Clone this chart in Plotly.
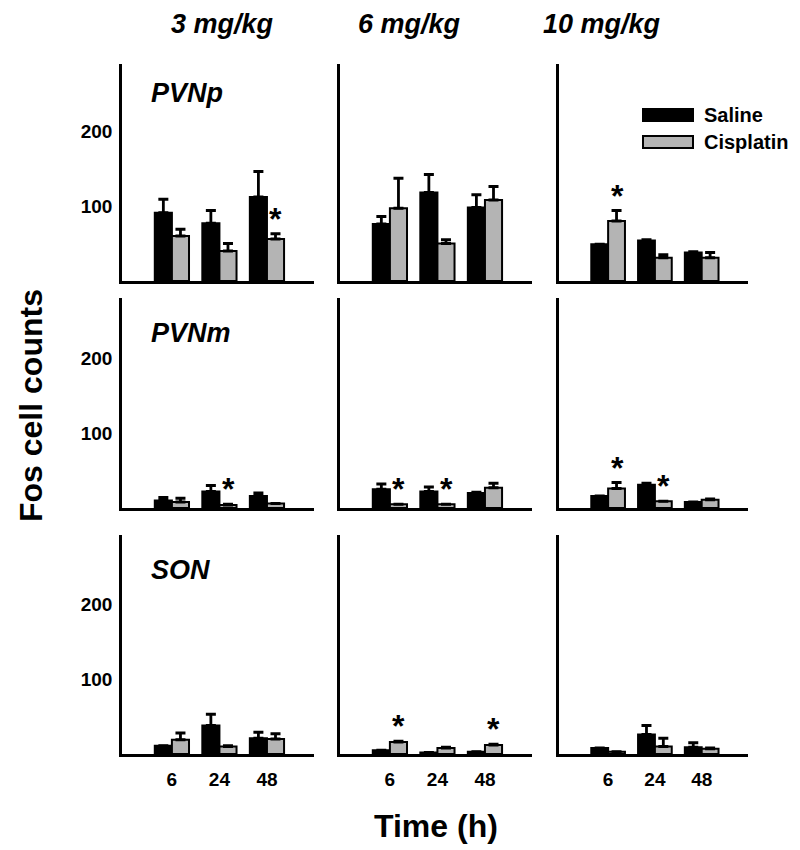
import plotly.graph_objects as go

# ---------------- data ----------------
times = ["6", "24", "48"]
time_pos = [1, 2, 3]
doses = ["3 mg/kg", "6 mg/kg", "10 mg/kg"]
regions = ["PVNp", "PVNm", "SON"]

# each list: [3 mg/kg, 6 mg/kg, 10 mg/kg], each inner list = 6 h, 24 h, 48 h
pvnp_saline = [[91, 77, 112], [76, 118, 98], [49, 54, 38]]
pvnp_saline_err = [[18, 17, 34], [10, 24, 17], [0, 1, 1]]
pvnp_cisplatin = [[60, 40, 56], [97, 50, 108], [80, 31, 31]]
pvnp_cisplatin_err = [[9, 10, 7], [40, 5, 18], [14, 4, 7]]

pvnm_saline = [[10, 22, 16], [25, 22, 20], [16, 31, 8]]
pvnm_saline_err = [[4, 8, 4], [7, 6, 1], [0, 2, 0]]
pvnm_cisplatin = [[8, 4, 6], [5, 5, 27], [26, 9, 11]]
pvnm_cisplatin_err = [[5, 1, 0], [0, 0, 6], [8, 0, 1]]

son_saline = [[11, 38, 21], [5, 2, 3], [8, 26, 9]]
son_saline_err = [[0, 15, 8], [0, 0, 0], [0, 12, 6]]
son_cisplatin = [[19, 10, 20], [16, 8, 12], [3, 10, 7]]
son_cisplatin_err = [[9, 1, 7], [1, 1, 1], [0, 11, 1]]

# significant cisplatin bars: (dose index, time index)
pvnp_sig = [(0, 2), (2, 0)]
pvnm_sig = [(0, 1), (1, 0), (1, 1), (2, 0), (2, 1)]
son_sig = [(1, 0), (1, 2)]

y_tickvals = [100, 200]
legend_names = ["Saline", "Cisplatin"]

# ---------------- layout geometry ----------------
W, H = 800, 850
col_px = [(122, 314), (340, 532), (559, 748)]
row_px = [(64, 281), (298, 508), (535, 754)]
px_per_unit = 0.75
x_range = [-0.05, 3.99]
FONT = "Liberation Sans, Arial, sans-serif"
GRAY = "#b4b4b4"

saline_all = [pvnp_saline, pvnm_saline, son_saline]
saline_err_all = [pvnp_saline_err, pvnm_saline_err, son_saline_err]
cis_all = [pvnp_cisplatin, pvnm_cisplatin, son_cisplatin]
cis_err_all = [pvnp_cisplatin_err, pvnm_cisplatin_err, son_cisplatin_err]
sig_all = [pvnp_sig, pvnm_sig, son_sig]

fig = go.Figure()
layout_axes = {}
annotations = []

for r in range(3):
    for c in range(3):
        k = r * 3 + c + 1
        sfx = "" if k == 1 else str(k)
        xa, ya = "x" + sfx, "y" + sfx
        err_style = dict(type="data", symmetric=False, arrayminus=[0, 0, 0],
                         color="black", thickness=2.8, width=5)
        fig.add_trace(go.Bar(
            x=time_pos, y=saline_all[r][c], name=legend_names[0],
            marker=dict(color="black", line=dict(color="black", width=2)),
            error_y=dict(array=saline_err_all[r][c], **err_style),
            xaxis=xa, yaxis=ya, showlegend=False))
        fig.add_trace(go.Bar(
            x=time_pos, y=cis_all[r][c], name=legend_names[1],
            marker=dict(color=GRAY, line=dict(color="black", width=2)),
            error_y=dict(array=cis_err_all[r][c], **err_style),
            xaxis=xa, yaxis=ya, showlegend=False))

        x0, x1 = col_px[c]
        y0, y1 = row_px[r]
        layout_axes["xaxis" + sfx] = dict(
            domain=[x0 / W, x1 / W], anchor=ya, range=x_range,
            showline=True, linecolor="black", linewidth=2.5,
            tickvals=time_pos, ticktext=times, showticklabels=(r == 2),
            ticks="outside", ticklen=6, tickcolor="rgba(0,0,0,0)",
            tickfont=dict(family=FONT, size=19, color="black", weight="bold"),
            showgrid=False, zeroline=False)
        layout_axes["yaxis" + sfx] = dict(
            domain=[1 - y1 / H, 1 - y0 / H], anchor=xa,
            range=[0, (y1 - y0) / px_per_unit],
            showline=True, linecolor="black", linewidth=2.5,
            tickvals=y_tickvals, showticklabels=(c == 0),
            ticks="outside", ticklen=3, tickcolor="rgba(0,0,0,0)",
            tickfont=dict(family=FONT, size=19, color="black", weight="bold"),
            showgrid=False, zeroline=False)

        for (d, t) in sig_all[r]:
            if d == c:
                annotations.append(dict(
                    x=time_pos[t] + 0.19, y=cis_all[r][c][t] + cis_err_all[r][c][t],
                    xref=xa, yref=ya, text="<b>*</b>", showarrow=False,
                    xanchor="center", yanchor="bottom", yshift=-5,
                    font=dict(family=FONT, size=32, color="black")))

# column titles
for txt, xp in zip(doses, [222, 410, 602]):
    annotations.append(dict(x=xp / W, y=1 - 24 / H, xref="paper", yref="paper",
                            xanchor="center", yanchor="middle",
                            text=f"<b><i>{txt}</i></b>", showarrow=False,
                            font=dict(family=FONT, size=27, color="black")))

# region labels
for txt, yp in zip(regions, [93, 333, 570]):
    annotations.append(dict(x=149 / W, y=1 - yp / H, xref="paper", yref="paper",
                            xanchor="left", yanchor="middle",
                            text=f"<b><i>{txt}</i></b>", showarrow=False,
                            font=dict(family=FONT, size=27, color="black")))

# axis titles
annotations.append(dict(x=31 / W, y=1 - 406 / H, xref="paper", yref="paper",
                        xanchor="center", yanchor="middle",
                        text="<b>Fos cell counts</b>", textangle=-90, showarrow=False,
                        font=dict(family=FONT, size=32, color="black")))
annotations.append(dict(x=436 / W, y=1 - 826 / H, xref="paper", yref="paper",
                        xanchor="center", yanchor="middle",
                        text="<b>Time (h)</b>", showarrow=False,
                        font=dict(family=FONT, size=32, color="black")))

# legend (drawn manually in panel PVNp / 10 mg/kg)
shapes = []
for name, fill, yc in zip(legend_names, ["black", GRAY], [115, 142]):
    shapes.append(dict(type="rect", xref="paper", yref="paper",
                       x0=643 / W, x1=693 / W, y0=1 - (yc + 6) / H, y1=1 - (yc - 6) / H,
                       fillcolor=fill, line=dict(color="black", width=2)))
    annotations.append(dict(x=702 / W, y=1 - yc / H, xref="paper", yref="paper",
                            xanchor="left", yanchor="middle",
                            text=f"<b>{name}</b>", showarrow=False,
                            font=dict(family=FONT, size=20, color="black")))

fig.update_layout(
    width=W, height=H, margin=dict(l=0, r=0, t=0, b=0),
    plot_bgcolor="white", paper_bgcolor="white",
    barmode="group", bargap=0.28, bargroupgap=0,
    annotations=annotations, shapes=shapes, showlegend=False,
    **layout_axes)

fig.write_html("out.html", config={"displayModeBar": False},
               post_script="document.body.style.margin='0px';")
